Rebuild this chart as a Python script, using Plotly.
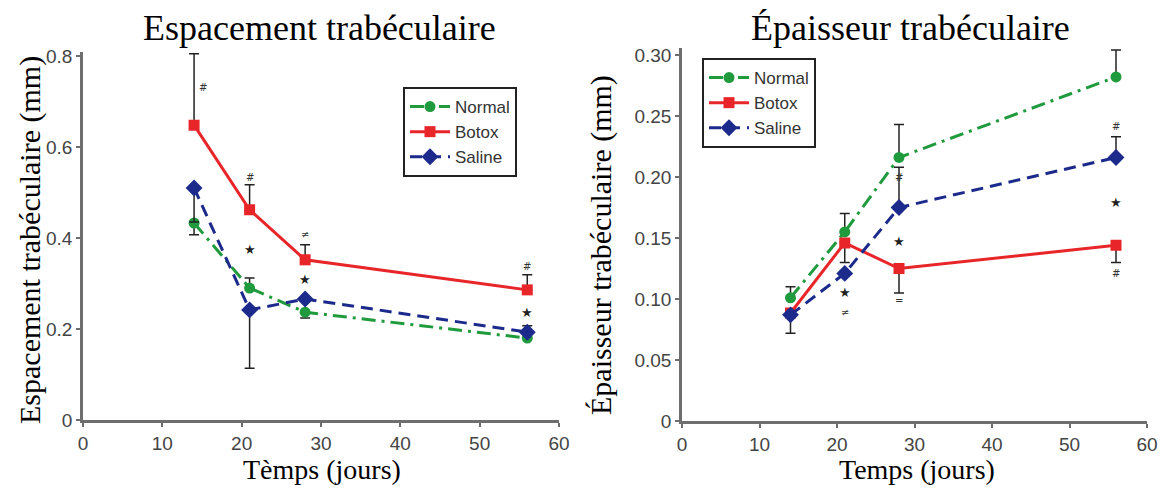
import plotly.graph_objects as go

days = [14, 21, 28, 56]

# Espacement trabéculaire (mm)
sp_normal = [0.433, 0.29, 0.237, 0.18]
sp_botox = [0.648, 0.462, 0.352, 0.286]
sp_saline = [0.51, 0.242, 0.266, 0.193]
sp_normal_up = [0, 0.022, 0, 0]
sp_normal_dn = [0.026, 0, 0.013, 0]
sp_botox_up = [0.157, 0.055, 0.033, 0.033]
sp_saline_up = [0, 0, 0, 0.014]
sp_saline_dn = [0.075, 0.128, 0, 0]

# Épaisseur trabéculaire (mm)
th_normal = [0.101, 0.155, 0.216, 0.282]
th_botox = [0.0885, 0.146, 0.125, 0.144]
th_saline = [0.087, 0.121, 0.175, 0.216]
th_normal_up = [0.009, 0.015, 0.027, 0.022]
th_botox_dn = [0, 0.016, 0.02, 0.014]
th_saline_up = [0, 0, 0.033, 0.017]
th_saline_dn = [0.015, 0, 0, 0]

colors = {"Normal": "#1f9a3c", "Botox": "#e8262a", "Saline": "#1c2a8c"}
dashes = {"Normal": "14px,6px,3px,6px", "Botox": "solid", "Saline": "12px,7px"}
symbols = {"Normal": "circle", "Botox": "square", "Saline": "diamond"}

# significance marks: (day, y, text, xshift)
sp_marks = [(14, 0.73, "#", 9), (21, 0.534, "#", 0), (28, 0.407, "≠", 0), (56, 0.338, "#", 0),
            (21, 0.374, "★", 0), (28, 0.308, "★", 0), (56, 0.237, "★", 0)]
th_marks = [(21, 0.105, "★", 0), (21, 0.089, "≠", 0), (28, 0.2, "#", 0), (28, 0.147, "★", 0),
            (28, 0.099, "=", 0), (56, 0.241, "#", 0), (56, 0.179, "★", 0), (56, 0.121, "#", 0)]

fig = go.Figure()

def add_series(name, y, up, dn, xa, ya, legend):
    fig.add_trace(go.Scatter(
        x=days, y=y, name=name, mode="lines+markers",
        line=dict(color=colors[name], width=3, dash=dashes[name]),
        marker=dict(symbol=symbols[name], size=11 if name != "Saline" else 13, color=colors[name]),
        error_y=dict(type="data", symmetric=False, array=up, arrayminus=dn,
                     color="#222", thickness=1.5, width=5),
        xaxis=xa, yaxis=ya, legend=legend,
    ))

add_series("Normal", sp_normal, sp_normal_up, sp_normal_dn, "x", "y", "legend")
add_series("Botox", sp_botox, sp_botox_up, [0, 0, 0, 0], "x", "y", "legend")
add_series("Saline", sp_saline, sp_saline_up, sp_saline_dn, "x", "y", "legend")
add_series("Normal", th_normal, th_normal_up, [0, 0, 0, 0], "x2", "y2", "legend2")
add_series("Botox", th_botox, [0, 0, 0, 0], th_botox_dn, "x2", "y2", "legend2")
add_series("Saline", th_saline, th_saline_up, th_saline_dn, "x2", "y2", "legend2")

W, H = 1162, 488
def px(v):
    return v / W
def py(v):
    return 1 - v / H

axis_common = dict(showline=True, linecolor="#6e6e6e", linewidth=2.5, ticks="outside",
                   ticklen=4, tickcolor="#6e6e6e", tickwidth=2, showgrid=False,
                   zeroline=False, automargin=False,
                   tickfont=dict(family="Liberation Sans", size=19, color="#444"))

legend_common = dict(xanchor="left", yanchor="top", bordercolor="#222", borderwidth=2,
                     bgcolor="white", font=dict(family="Liberation Sans", size=17, color="#333"),
                     tracegroupgap=0, itemwidth=40)

# left: 0 at 420px, 0.8 at 56px -> 455 px/unit; right: 0 at 421px, 0.3 at 55px -> 1220 px/unit
fig.update_layout(
    width=W, height=H, margin=dict(l=0, r=0, t=0, b=0, autoexpand=False),
    plot_bgcolor="white", paper_bgcolor="white",
    xaxis=dict(domain=[px(83), px(559)], range=[0, 60], tickvals=[0, 10, 20, 30, 40, 50, 60],
               anchor="y", **axis_common),
    yaxis=dict(domain=[py(420), py(56 - 0.008 * 455)], range=[0, 0.808], tickvals=[0, 0.2, 0.4, 0.6, 0.8],
               anchor="x", **axis_common),
    xaxis2=dict(domain=[px(682), px(1147)], range=[0, 60], tickvals=[0, 10, 20, 30, 40, 50, 60],
                anchor="y2", **axis_common),
    yaxis2=dict(domain=[py(421), py(55 - 0.006 * 1220)], range=[0, 0.306],
                tickvals=[0, 0.05, 0.1, 0.15, 0.2, 0.25, 0.3],
                ticktext=["0", "0.05", "0.10", "0.15", "0.20", "0.25", "0.30"],
                anchor="x2", **axis_common),
    legend=dict(x=px(403), y=py(87), **legend_common),
    legend2=dict(x=px(702), y=py(58), **legend_common),
    showlegend=True,
)

serif = "Liberation Serif"
ann = [
    dict(text="Espacement trabéculaire", x=px(320), y=py(28), font=dict(family=serif, size=36, color="black")),
    dict(text="Épaisseur trabéculaire", x=px(910), y=py(28), font=dict(family=serif, size=36, color="black")),
    dict(text="Tèmps (jours)", x=px(322), y=py(469), font=dict(family=serif, size=28, color="black")),
    dict(text="Temps (jours)", x=px(917), y=py(469), font=dict(family=serif, size=28, color="black")),
    dict(text="Espacement trabéculaire (mm)", x=px(30), y=py(240), textangle=-90,
         font=dict(family=serif, size=30, color="black")),
    dict(text="Épaisseur trabéculaire (mm)", x=px(601), y=py(245), textangle=-90,
         font=dict(family=serif, size=30, color="black")),
]
for a in ann:
    a.update(xref="paper", yref="paper", showarrow=False, xanchor="center", yanchor="middle")
    fig.add_annotation(**a)

def mark_font(t):
    if t == "★":
        return dict(family="DejaVu Sans", size=13, color="#222")
    return dict(family="DejaVu Sans", size=10, color="#333")

for d, y, t, s in sp_marks:
    fig.add_annotation(x=d, y=y, text=t, xref="x", yref="y", showarrow=False, xshift=s, font=mark_font(t))
for d, y, t, s in th_marks:
    fig.add_annotation(x=d, y=y, text=t, xref="x2", yref="y2", showarrow=False, xshift=s, font=mark_font(t))

fig.write_html("out.html", config={"displayModeBar": False},
               post_script="document.body.style.margin='0';document.body.style.overflow='hidden';")
